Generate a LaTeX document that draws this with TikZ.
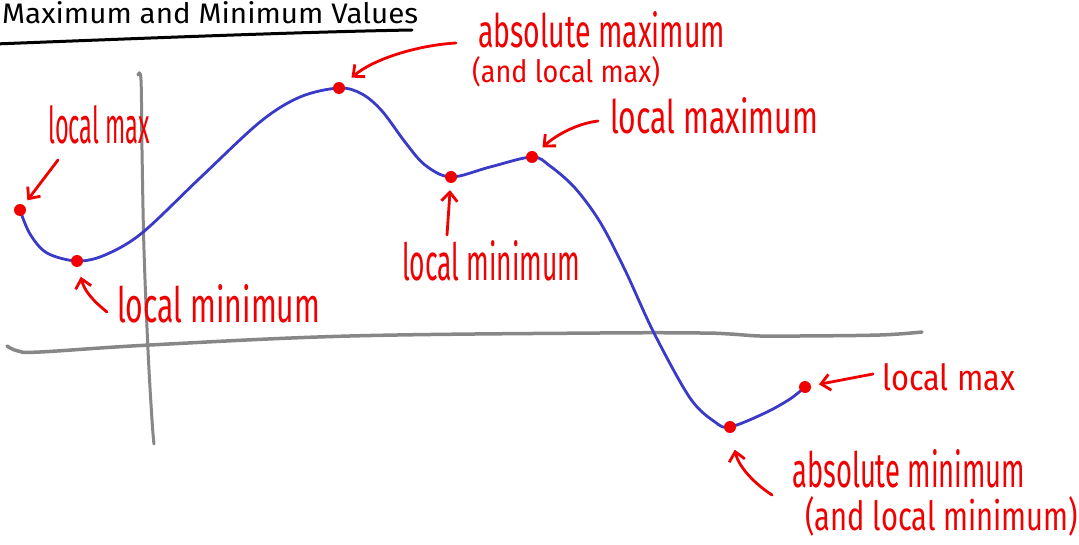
\documentclass[tikz,border=0pt]{standalone}
\usepackage{fontspec}
\setmainfont{Fira Sans}
\usetikzlibrary{arrows.meta}
\definecolor{curveblue}{RGB}{58,58,200}
\definecolor{markred}{RGB}{240,0,0}
\definecolor{axisgray}{RGB}{135,135,135}
\newcommand{\fitwh}[3]{\resizebox{#1pt}{#2pt}{#3}}
\tikzset{
  axisline/.style={draw=axisgray, line width=3.5pt, line cap=round, line join=round},
  curveline/.style={draw=curveblue, line width=2.8pt, line cap=round},
  extdot/.style={circle, fill=markred, inner sep=0pt, minimum size=12pt},
  lbl/.style={text=markred, inner sep=0pt, anchor=base west},
  pointer/.style={draw=markred, line width=2.8pt, line cap=round,
    -{Straight Barb[length=9pt,width=16pt,line width=2.8pt]}},
  titletext/.style={text=black, inner sep=0pt, anchor=base west},
}
\begin{document}
\begin{tikzpicture}[x=1pt,y=-1pt]
\useasboundingbox (0,0) rectangle (1079,545);
\clip (0,0) rectangle (1079,545);
\fill[white] (0,0) rectangle (1079,545);

% title
\node[titletext] (title) at (2,24) {\fitwh{416}{22}{Maximum and Minimum Values}};
\coordinate (ulA) at (-5,44);
\coordinate (ulB) at (412,30);
\draw[line width=3pt, line cap=round] (ulA) .. controls (150,38) and (300,32) .. (ulB);

% axes
\draw[axisline] plot[smooth, tension=0.6] coordinates {(7,346) (18,351) (40,352) (150,345) (350,336) (600,333) (700,333) (730,334) (760,336) (800,336) (880,335) (922,332)};
\draw[axisline, line width=3pt] plot[smooth, tension=0.6] coordinates {(138,75) (141,80) (142,150) (144,250) (148,350) (152,420) (154,444)};

% curve
\draw[curveline] plot[smooth, tension=0.55] coordinates {(20,210) (30,234) (47,253) (77,261) (105,255) (142,233) (200,178) (260,122) (300,97) (339,88) (362,94) (382,111) (405,142) (425,165) (451,177) (490,167) (532,157) (550,166) (575,188) (600,222) (625,270) (654,333) (690,398) (715,422) (730,427) (765,413) (790,399) (805,387)};

% extreme points
\node[extdot] (d1) at (20,210) {};
\node[extdot] (d2) at (77,261) {};
\node[extdot] (d3) at (339,88) {};
\node[extdot] (d4) at (451,177) {};
\node[extdot] (d5) at (532,157) {};
\node[extdot] (d6) at (730,427) {};
\node[extdot] (d7) at (805,387) {};

% labels
\node[lbl] (l1) at (48,144) {\fitwh{102}{38}{local max}};
\node[lbl] (l2) at (117,322) {\fitwh{203}{38}{local minimum}};
\node[lbl] (l3a) at (478,48) {\fitwh{247}{36}{absolute maximum}};
\node[lbl] (l3b) at (472,83) {\fitwh{188}{26}{(and local max)}};
\node[lbl] (l4) at (610,134) {\fitwh{208}{36}{local maximum}};
\node[lbl] (l5) at (402,281) {\fitwh{178}{40}{local minimum}};
\node[lbl] (l6) at (882,390) {\fitwh{133}{27}{local max}};
\node[lbl] (l7a) at (792,487) {\fitwh{233}{38}{absolute minimum}};
\node[lbl] (l7b) at (805,530) {\fitwh{273}{34}{(and local minimum)}};

% arrow tails
\coordinate (t1) at (58,160);
\coordinate (t2) at (107,312);
\coordinate (t3) at (456,43);
\coordinate (t4) at (598,121);
\coordinate (t5) at (447,235);
\coordinate (t6) at (873,374);
\coordinate (t7) at (772,495);

% arrows
\draw[pointer, shorten >=6pt] (t1) -- (d1);
\draw[pointer, shorten >=10pt] (t2) .. controls (92,300) and (84,290) .. (d2);
\draw[pointer, shorten >=10pt] (t3) .. controls (420,45) and (375,58) .. (d3);
\draw[pointer, shorten >=8pt] (t4) .. controls (575,124) and (555,136) .. (d5);
\draw[pointer, shorten >=7pt] (t5) -- (d4);
\draw[pointer, shorten >=8pt] (t6) -- (d7);
\draw[pointer, shorten >=17pt] (t7) .. controls (752,482) and (738,465) .. (d6);
\end{tikzpicture}
\end{document}
